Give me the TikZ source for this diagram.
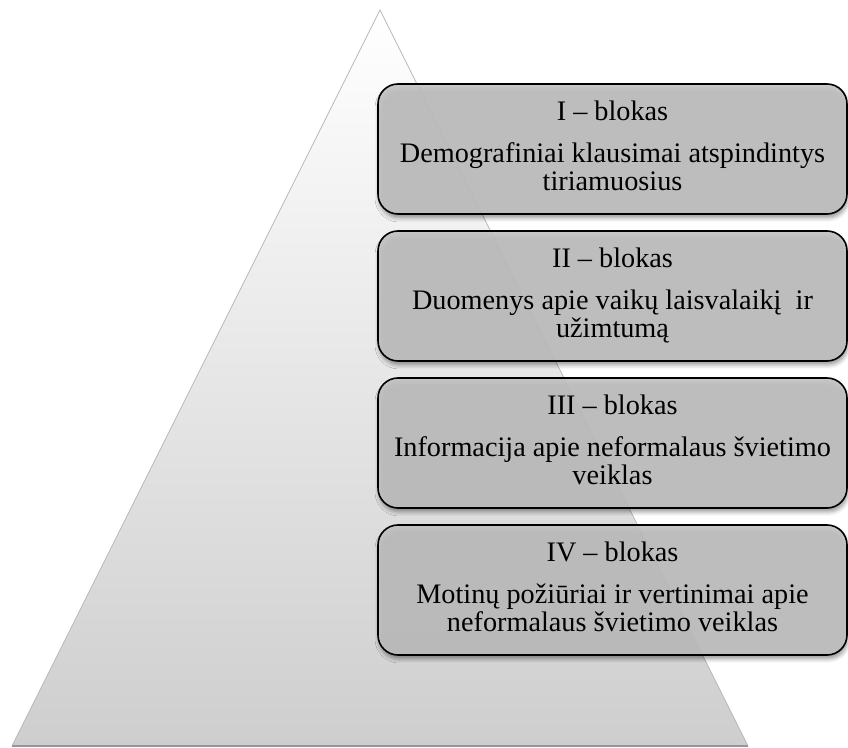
\documentclass[tikz,border=0pt]{standalone}
\usepackage{fontspec}
\setmainfont{Liberation Serif}
\usetikzlibrary{calc,shadows.blur}
\definecolor{boxgray}{RGB}{194,194,194}
\definecolor{trilow}{RGB}{206,206,206}
\definecolor{triedge}{RGB}{185,185,185}
\definecolor{tribase}{RGB}{150,150,150}
\begin{document}
\begin{tikzpicture}[x=1pt,y=1pt,
  blockbox/.style={draw=black, line width=1.6pt, rounded corners=20pt, fill=boxgray, fill opacity=0.88,
    minimum width=469pt, minimum height=130pt, inner sep=0pt,
    blur shadow={shadow xshift=1pt, shadow yshift=-4pt, shadow blur radius=4pt, shadow opacity=45}},
  titletext/.style={anchor=base, inner sep=0pt, font=\fontsize{28.25}{28.7}\selectfont},
  bodytext/.style={anchor=base, inner sep=0pt, font=\fontsize{28.25}{28.7}\selectfont}]
\useasboundingbox (0,0) rectangle (848,747);
% pyramid
\coordinate (apex) at (380,737);
\coordinate (bl) at (12,1);
\coordinate (br) at (748,1);
\path[top color=white, bottom color=trilow, draw=triedge, line width=0.8pt] (apex) -- (br) -- (bl) -- cycle;
\draw[tribase, line width=2pt] (bl) -- (br);
% blocks
\foreach \n/\cy/\ttl/\la/\lb in {
  1/598/{I -- blokas}/{Demografiniai klausimai atspindintys}/{tiriamuosius},
  2/451/{II -- blokas}/{Duomenys apie vaikų laisvalaikį\ \ ir}/{užimtumą},
  3/304/{III -- blokas}/{Informacija apie neformalaus švietimo}/{veiklas},
  4/157/{IV -- blokas}/{Motinų požiūriai ir vertinimai apie}/{neformalaus švietimo veiklas}}{
  \node[blockbox] (b\n) at (612.5,\cy) {};
  \node[titletext] (t\n) at ($(b\n.north)+(0,-37.5)$) {\ttl};
  \node[bodytext] (d\n) at ($(b\n.north)+(0,-79)$) {\parbox[t]{465pt}{\centering \la\\ \lb}};
}
\end{tikzpicture}
\end{document}
